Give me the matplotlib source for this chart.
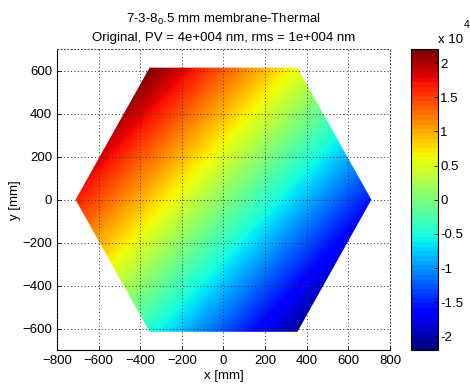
import numpy as np
import matplotlib
matplotlib.use("Agg")
import matplotlib.pyplot as plt
from matplotlib.patches import Polygon
from matplotlib.ticker import FuncFormatter
import matplotlib.cm as cm
from matplotlib.colors import Normalize

plt.rcParams['font.family'] = ['Liberation Sans', 'DejaVu Sans']
plt.rcParams['mathtext.default'] = 'regular'

# surface samples [nm], rows = y (bottom to top), cols = x
x_mm = [-710, -355, 0, 355, 710]
y_mm = [-615, -307.5, 0, 307.5, 615]
z_row_m615 = [3300, -4900, -13000, -21200, -29400]
z_row_m307 = [10100, 1900, -6200, -14400, -22600]
z_row_0 = [16800, 8700, 500, -7700, -15800]
z_row_p307 = [23600, 15400, 7300, -900, -9100]
z_row_p615 = [30400, 22200, 14000, 5900, -2300]

clim = [-22000, 22000]
cbar_ticks = [-20000, -15000, -10000, -5000, 0, 5000, 10000, 15000, 20000]
x_ticks = [-800, -600, -400, -200, 0, 200, 400, 600, 800]
y_ticks = [-600, -400, -200, 0, 200, 400, 600]

title1 = "7-3-8$_0$.5 mm membrane-Thermal"
title2 = "Original, PV = 4e+004 nm, rms = 1e+004 nm"

Z = np.array([z_row_m615, z_row_m307, z_row_0, z_row_p307, z_row_p615])
fs = 9.5

fig = plt.figure(figsize=(4.7, 3.92), dpi=100)
ax = fig.add_axes([0.121, 0.107, 0.709, 0.767])
cax = fig.add_axes([0.874, 0.107, 0.058, 0.767])

dx = (x_mm[1] - x_mm[0]) / 2
dy = (y_mm[1] - y_mm[0]) / 2
im = ax.imshow(Z, origin='lower', aspect='auto', cmap='jet',
               vmin=clim[0], vmax=clim[1], interpolation='bilinear',
               interpolation_stage='data',
               extent=[x_mm[0] - dx, x_mm[-1] + dx, y_mm[0] - dy, y_mm[-1] + dy])

hexagon = Polygon([(x_mm[0], y_mm[2]), (x_mm[1], y_mm[-1]), (x_mm[3], y_mm[-1]),
                   (x_mm[-1], y_mm[2]), (x_mm[3], y_mm[0]), (x_mm[1], y_mm[0])],
                  closed=True, transform=ax.transData, facecolor='none', edgecolor='none')
ax.add_patch(hexagon)
im.set_clip_path(hexagon)

ax.set_xlim(-800, 800)
ax.set_ylim(-700, 700)
ax.set_xticks(x_ticks)
ax.set_yticks(y_ticks)
ax.grid(True, linestyle=(0, (1, 2.5)), color='#333333', linewidth=0.7)
ax.set_axisbelow(False)
ax.tick_params(direction='in', length=3, width=0.6, labelsize=fs, colors='black')
for side in ['top', 'right']:
    ax.spines[side].set_linestyle((0, (1, 2.5)))
    ax.spines[side].set_linewidth(0.7)
    ax.spines[side].set_color('#333333')
for side in ['left', 'bottom']:
    ax.spines[side].set_linewidth(0.8)
ax.set_xlabel("x [mm]", fontsize=fs, labelpad=2)
ax.set_ylabel("y [mm]", fontsize=fs, labelpad=1)
ax.set_title(title1 + "\n" + title2, fontsize=fs, linespacing=1.55, pad=6)

# colorbar drawn with the 64-step jet map as in the original
sm = cm.ScalarMappable(norm=Normalize(clim[0], clim[1]), cmap=plt.get_cmap('jet', 64))
cb = fig.colorbar(sm, cax=cax, ticks=cbar_ticks)
cb.ax.yaxis.set_major_formatter(FuncFormatter(lambda v, p: f"{v / 1e4:g}"))
cb.ax.tick_params(direction='in', length=3, width=0.6, labelsize=fs, pad=1.5)
cb.outline.set_linewidth(0.8)
# MATLAB style exponent label: "x 10" with a raised "4"
fig.text(438 / 470, 1 - 43 / 392, "x 10", fontsize=fs, ha='left', va='baseline')
fig.text(464 / 470, 1 - 28 / 392, "4", fontsize=fs * 0.8, ha='left', va='baseline')

fig.savefig("out.png", dpi=100)
